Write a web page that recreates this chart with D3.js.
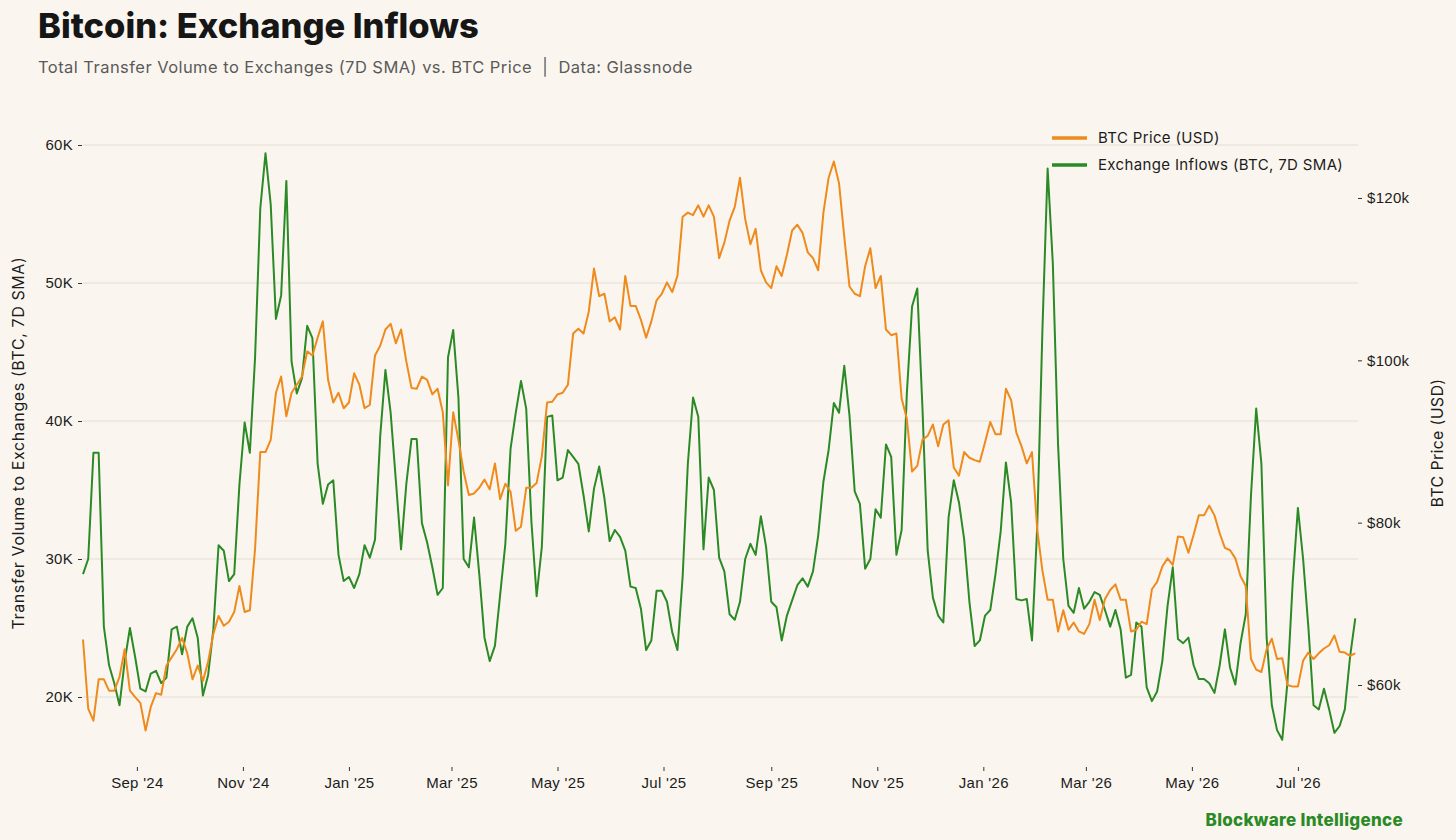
<!DOCTYPE html>
<html>
<head>
<meta charset="utf-8">
<script src="https://cdn.jsdelivr.net/npm/d3@7"></script>
<style>
  body { margin: 0; background: #faf6ef; }
  svg { display: block; font-family: Inter, "Open Sans", sans-serif; }
</style>
</head>
<body>
<svg id="chart" width="1456" height="840"></svg>
<script>
// Data (one point every 3 days from 1 Aug 2024)
const startDate = new Date(2024, 7, 1);
const stepDays = 3;

// Exchange inflows, thousands of BTC (7D SMA)
const inflowsK = [
  28.9, 30.0, 37.7, 37.7, 25.1, 22.3, 21.0, 19.4, 22.6, 25.0,
  22.9, 20.6, 20.4, 21.7, 21.9, 21.0, 21.4, 24.9, 25.1, 23.1,
  25.1, 25.7, 24.3, 20.1, 21.6, 24.9, 31.0, 30.6, 28.4, 28.9,
  35.4, 39.9, 37.7, 44.6, 55.4, 59.4, 55.7, 47.4, 49.1, 57.4,
  44.3, 42.0,
  43.1, 46.9, 46.0, 36.9, 34.0, 35.4, 35.7, 30.3, 28.4, 28.7,
  27.9, 28.9, 31.0, 30.1, 31.4, 38.9, 43.7, 40.6, 35.7, 30.7,
  35.4, 38.7, 38.7, 32.6, 31.2, 29.4, 27.4, 27.9, 44.6, 46.6,
  41.7, 30.0, 29.4, 33.0, 28.9, 24.3, 22.6, 23.7, 27.4, 31.1,
  38.0,
  40.6, 42.9, 40.9, 32.7, 27.3, 30.9, 40.3, 40.4, 35.7, 35.9,
  37.9, 37.4, 36.9, 34.6, 32.0, 35.1, 36.7, 34.4, 31.3, 32.1,
  31.6, 30.6, 28.0, 27.9, 26.4, 23.4, 24.1, 27.7, 27.7, 26.9,
  24.7, 23.4, 28.7, 36.9, 41.7, 40.3, 30.7, 35.9, 35.0, 30.1,
  29.1, 26.0,
  25.6, 26.9, 30.0, 31.1, 30.3, 33.1, 30.9, 26.9, 26.5, 24.1,
  25.9, 27.0, 28.1, 28.6, 28.0, 29.1, 31.7, 35.6, 37.9, 41.3,
  40.6, 44.0, 40.4, 34.9, 34.0, 29.3, 30.0, 33.6, 33.0, 38.3,
  37.4, 30.3, 32.1, 42.0, 48.3, 49.6, 40.9, 30.6, 27.2, 25.9,
  25.4,
  33.0, 35.7, 34.1, 31.4, 26.9, 23.7, 24.1, 25.9, 26.3, 28.9,
  32.0, 37.0, 34.1, 27.1, 27.0, 27.1, 24.1, 32.3, 46.6, 58.3,
  51.4, 38.3, 30.0, 26.6, 26.1, 27.9, 26.4, 26.9, 27.6, 27.4,
  26.3, 25.1, 26.3, 24.9, 21.4, 21.6, 25.4, 25.1, 20.7, 19.7,
  20.4,
  22.6, 26.6, 29.4, 24.2, 23.9, 24.3, 22.3, 21.3, 21.3, 21.0,
  20.3, 22.3, 24.9, 22.1, 20.9, 23.9, 26.0, 34.6, 40.9, 36.9,
  24.3, 19.4, 17.6, 16.9, 21.1, 28.3, 33.7, 30.0, 25.1, 19.4,
  19.1, 20.6, 19.1, 17.4, 17.9, 19.1, 22.9, 25.7
];

// BTC price, thousands of USD
const priceK = [
  65.6, 57.1, 55.6, 60.7, 60.7, 59.3, 59.3, 61.0, 64.4, 59.3,
  58.5, 57.8, 54.4, 57.3, 59.0, 58.8, 62.4, 63.4, 64.4, 65.8,
  63.9, 60.7, 62.4, 60.5, 62.9, 66.3, 68.5, 67.3, 67.8, 69.0,
  72.2, 69.0, 69.2, 76.8, 88.7, 88.7, 90.2, 96.0, 98.0, 93.1,
  96.0, 97.0,
  98.0, 101.1, 100.6, 102.8, 104.8, 97.6, 94.8, 96.0, 94.1, 94.8,
  98.4, 97.0, 94.1, 94.5, 100.6, 101.8, 103.8, 104.5, 102.1, 103.8,
  99.9, 96.6, 96.5, 98.0, 97.6, 95.8, 96.5, 93.6, 84.6, 93.6,
  90.2, 86.3, 83.4, 83.6, 84.3, 85.3, 84.1, 87.3, 82.9, 84.8,
  83.8,
  79.0, 79.5, 84.3, 84.3, 84.9, 88.2, 94.8, 94.9, 95.8, 96.0,
  97.0, 103.3, 103.9, 103.3, 106.0, 111.3, 107.9, 108.2, 104.8, 105.3,
  103.8, 110.4, 106.7, 106.7, 105.0, 102.8, 104.8, 107.4, 108.2, 109.6,
  108.4, 110.4, 117.7, 118.2, 117.9, 119.1, 117.7, 119.1, 117.7, 112.6,
  114.5, 117.2,
  118.9, 122.5, 117.4, 114.3, 116.2, 111.1, 109.6, 108.9, 111.6, 110.4,
  113.0, 116.0, 116.7, 115.7, 113.3, 112.6, 111.1, 118.2, 122.5, 124.5,
  121.8, 115.2, 109.1, 108.2, 107.9, 111.6, 113.8, 108.9, 110.4, 103.8,
  103.1, 103.3, 95.3, 92.8, 86.3, 87.0, 90.2, 90.7, 92.1, 89.4,
  92.1,
  92.6, 86.8, 85.8, 88.7, 88.0, 87.7, 87.5, 89.9, 92.4, 90.9,
  90.9, 96.5, 95.1, 91.1, 89.4, 87.3, 88.7, 79.2, 74.1, 70.5,
  70.5, 66.6, 69.2, 66.8, 67.7, 66.6, 66.3, 67.5, 70.5, 68.0,
  70.6, 71.7, 72.4, 70.5, 70.5, 66.6, 66.8, 67.8, 67.5, 71.8,
  72.7,
  74.6, 75.6, 74.8, 78.3, 78.2, 76.3, 78.5, 80.9, 80.9, 82.1,
  80.9, 78.7, 76.9, 76.6, 75.6, 73.4, 72.2, 63.2, 61.9, 61.6,
  64.4, 65.7, 63.2, 63.3, 60.0, 59.8, 59.8, 63.0, 64.0, 63.2,
  63.9, 64.5, 64.9, 66.1, 64.1, 64.0, 63.6, 63.9
];

const leftTicks = [20, 30, 40, 50, 60];
const rightTicks = [60, 80, 100, 120];
const seriesNames = ["BTC Price (USD)", "Exchange Inflows (BTC, 7D SMA)"];

const dates = inflowsK.map((_, i) => d3.timeDay.offset(startDate, i * stepDays));

// --- Setup ---
const ORANGE = "#ef8a1d", GREEN = "#2b8a26", INK = "#1c1c1c";
const svg = d3.select("#chart");
svg.append("rect").attr("width", 1456).attr("height", 840).attr("fill", "#faf6ef");

const x = d3.scaleTime().domain([startDate, new Date(2026, 7, 4)]).range([83, 1357]);
const yL = d3.scaleLinear().domain([20, 60]).range([697, 145]);
const yR = d3.scaleLinear().domain([60, 120]).range([685, 198]);

// Title
svg.append("text").attr("x", 38).attr("y", 38)
  .attr("font-size", 34.5).attr("font-weight", 800).attr("fill", "#161616")
  .text("Bitcoin: Exchange Inflows");
svg.append("text").attr("x", 38).attr("y", 73)
  .attr("font-size", 16.5).attr("fill", "#5a5a5a").attr("letter-spacing", 0.45)
  .attr("xml:space", "preserve")
  .text("Total Transfer Volume to Exchanges (7D SMA) vs. BTC Price  |  Data: Glassnode");

// Gridlines
svg.append("g").selectAll("line").data(leftTicks).join("line")
  .attr("x1", 83).attr("x2", 1358)
  .attr("y1", d => yL(d)).attr("y2", d => yL(d))
  .attr("stroke", "#e3ded4").attr("stroke-width", 1);

// Axes
function styleAxis(g) {
  g.select(".domain").remove();
  g.selectAll(".tick line").attr("stroke", "#333");
  g.selectAll(".tick text").attr("fill", INK).attr("font-size", 15).attr("letter-spacing", 0.3);
}
svg.append("g").attr("transform", "translate(82,0)")
  .call(d3.axisLeft(yL).tickValues(leftTicks).tickFormat(d => d + "K").tickSize(4).tickPadding(5))
  .call(styleAxis);
svg.append("g").attr("transform", "translate(1358,0)")
  .call(d3.axisRight(yR).tickValues(rightTicks).tickFormat(d => "$" + d + "k").tickSize(4).tickPadding(5))
  .call(styleAxis);
svg.append("g").attr("transform", "translate(0,767)")
  .call(d3.axisBottom(x).ticks(d3.timeMonth.every(2)).tickFormat(d3.timeFormat("%b '%y")).tickSize(4).tickPadding(6))
  .call(styleAxis);

// Axis titles
svg.append("text").attr("transform", "translate(24,443) rotate(-90)")
  .attr("text-anchor", "middle").attr("font-size", 16).attr("letter-spacing", 0.6).attr("fill", INK)
  .text("Transfer Volume to Exchanges (BTC, 7D SMA)");
svg.append("text").attr("transform", "translate(1443,443) rotate(-90)")
  .attr("text-anchor", "middle").attr("font-size", 16).attr("letter-spacing", 0.3).attr("fill", INK)
  .text("BTC Price (USD)");

// Lines
const lineL = d3.line().x((d, i) => x(dates[i])).y(d => yL(d));
const lineR = d3.line().x((d, i) => x(dates[i])).y(d => yR(d));
svg.append("path").datum(inflowsK).attr("d", lineL)
  .attr("fill", "none").attr("stroke", GREEN).attr("stroke-width", 2).attr("stroke-linejoin", "round");
svg.append("path").datum(priceK).attr("d", lineR)
  .attr("fill", "none").attr("stroke", ORANGE).attr("stroke-width", 2).attr("stroke-linejoin", "round");

// Legend
const legend = svg.append("g").selectAll("g").data(seriesNames).join("g")
  .attr("transform", (d, i) => `translate(1052,${138 + i * 27})`);
legend.append("line").attr("x1", 0).attr("x2", 35)
  .attr("stroke", (d, i) => i === 0 ? ORANGE : GREEN).attr("stroke-width", 3.5);
legend.append("text").attr("x", 46).attr("dy", "0.35em")
  .attr("font-size", 15).attr("letter-spacing", 0.35).attr("fill", INK).text(d => d);

// Footer
svg.append("text").attr("x", 1403).attr("y", 826).attr("text-anchor", "end")
  .attr("font-size", 17).attr("font-weight", 800).attr("letter-spacing", 0.3).attr("fill", GREEN)
  .text("Blockware Intelligence");
</script>
</body>
</html>
